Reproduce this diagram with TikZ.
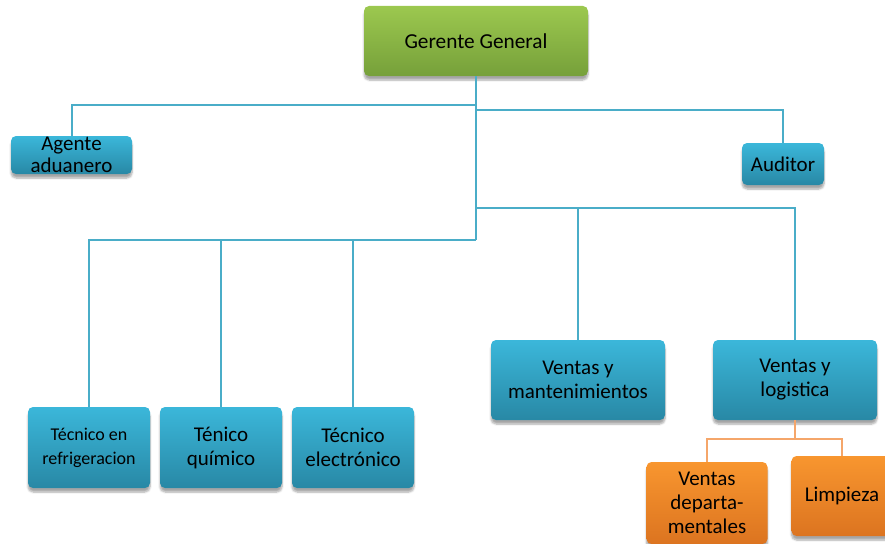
\documentclass[tikz,border=0pt]{standalone}
\usepackage{fontspec}
\setmainfont{Carlito}
\usetikzlibrary{shadows.blur}
\definecolor{gtop}{HTML}{9CC84F}
\definecolor{gbot}{HTML}{76A03A}
\definecolor{btop}{HTML}{3BB7DA}
\definecolor{bbot}{HTML}{2888A5}
\definecolor{otop}{HTML}{F8962F}
\definecolor{obot}{HTML}{DC7420}
\definecolor{bline}{HTML}{4AADC8}
\definecolor{oline}{HTML}{F5A66A}
\tikzset{
  box/.style={rounded corners=5pt, align=center, inner sep=1pt, text=black,
    blur shadow={shadow xshift=0pt, shadow yshift=-4pt, shadow opacity=35, shadow blur steps=6},
    font=\fontsize{21}{24}\selectfont},
  gbox/.style={box, top color=gtop, bottom color=gbot},
  bbox/.style={box, top color=btop, bottom color=bbot},
  obox/.style={box, top color=otop, bottom color=obot},
  conn/.style={draw=bline, line width=2pt},
  oconn/.style={draw=oline, line width=2pt},
}
\begin{document}
\begin{tikzpicture}[x=1pt,y=-1pt]
\useasboundingbox (0,0) rectangle (885,543);
% nodes
\node[gbox, minimum width=224pt, minimum height=70pt, font=\fontsize{21.3}{24}\selectfont] (gg) at (476,41) {Gerente General};
\node[bbox, minimum width=121pt, minimum height=38pt, inner ysep=-4pt, font=\fontsize{21}{22}\selectfont] (ag) at (71.5,155) {Agente\\aduanero};
\node[bbox, minimum width=82pt, minimum height=42pt] (aud) at (783,164) {Auditor};
\node[bbox, minimum width=122pt, minimum height=81pt, font=\fontsize{18}{24}\selectfont] (t1) at (89,447.5) {Técnico en\\refrigeracion};
\node[bbox, minimum width=122pt, minimum height=81pt] (t2) at (221,447.5) {Ténico\\químico};
\node[bbox, minimum width=122pt, minimum height=81pt] (t3) at (353,447.5) {Técnico\\electrónico};
\node[bbox, minimum width=174pt, minimum height=80pt] (vm) at (578,380) {Ventas y\\mantenimientos};
\node[bbox, minimum width=164pt, minimum height=80pt] (vl) at (795,380) {Ventas y\\logistica};
\node[obox, minimum width=121pt, minimum height=82pt] (vd) at (707,503) {Ventas\\departa-\\mentales};
\node[obox, minimum width=101pt, minimum height=80pt] (lp) at (842,496) {Limpieza};
% junctions
\coordinate (cL) at (476,105);
\coordinate (cR) at (476,110);
\coordinate (cV) at (476,208);
\coordinate (cB) at (476,240);
\coordinate (oJ) at (795,439);
% connectors
\draw[conn] (gg.south) -- (cB);
\draw[conn] (ag.north) |- (cL);
\draw[conn] (aud.north) |- (cR);
\draw[conn] (t1.north) |- (cB);
\draw[conn] (t2.north) |- (cB);
\draw[conn] (t3.north) |- (cB);
\draw[conn] (vm.north) |- (cV);
\draw[conn] (vl.north) |- (cV);
\draw[oconn] (vl.south) -- (oJ);
\draw[oconn] (vd.north) |- (oJ);
\draw[oconn] (lp.north) |- (oJ);
\end{tikzpicture}
\end{document}
